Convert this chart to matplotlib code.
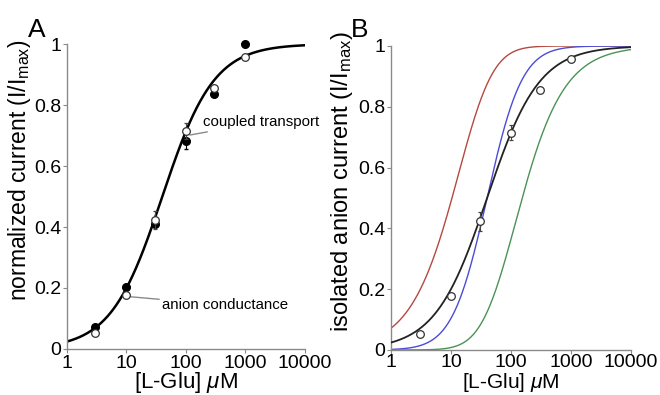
import numpy as np
import matplotlib
matplotlib.use("Agg")
import matplotlib.pyplot as plt

plt.rcParams['font.family'] = ['Liberation Sans', 'DejaVu Sans']
plt.rcParams['mathtext.fontset'] = 'custom'
plt.rcParams['mathtext.rm'] = 'Liberation Sans'
plt.rcParams['mathtext.it'] = 'Liberation Sans:italic'

# ---- data ----
glu = [3, 10, 30, 100, 300, 1000]                       # [L-Glu] uM
anion = [0.052, 0.177, 0.423, 0.715, 0.856, 0.957]      # open circles
anion_err = [0.0, 0.0, 0.03, 0.025, 0.0, 0.0]
coupled = [0.072, 0.203, 0.41, 0.682, 0.836, 1.0]       # filled circles
coupled_err = [0.0, 0.0, 0.0, 0.025, 0.0, 0.0]
K_half = 40.0        # fitted EC50 (uM) of single-site binding
n_sites = 3          # binding sites in the model of panel B
xticks = [1, 10, 100, 1000, 10000]
xticklabels = ['1', '10', '100', '1000', '10000']
yticks = [0, 0.2, 0.4, 0.6, 0.8, 1]
yticklabels = ['0', '0.2', '0.4', '0.6', '0.8', '1']

xs = np.logspace(0, 4, 500)
p = xs / (xs + K_half)
fit_black = p
fit_red = 1 - (1 - p) ** n_sites
fit_blue = 3 * p ** 2 - 2 * p ** 3
fit_green = p ** n_sites

fig = plt.figure(figsize=(6.6, 3.95), dpi=100)
axA = fig.add_axes([0.1015, 0.1165, 0.3606, 0.772])
axB = fig.add_axes([0.5924, 0.1140, 0.3636, 0.7696])

gray = '#8a8a8a'
for ax in (axA, axB):
    ax.set_xscale('log')
    ax.set_xlim(1, 10000)
    ax.set_ylim(0, 1)
    for s in ('top', 'right'):
        ax.spines[s].set_visible(False)
    for s in ('left', 'bottom'):
        ax.spines[s].set_color(gray)
        ax.spines[s].set_linewidth(1.0)
    ax.set_xticks(xticks)
    ax.set_xticklabels(xticklabels)
    ax.xaxis.set_minor_locator(matplotlib.ticker.NullLocator())
    ax.set_yticks(yticks)
    ax.set_yticklabels(yticklabels)
    ax.tick_params(axis='both', direction='out', length=3, width=0.8, color=gray,
                   labelsize=14, pad=1)

axB.tick_params(axis='x', pad=0)
axA.set_xlabel('[L-Glu] $\\mu$M', fontsize=16, labelpad=-1)
axB.set_xlabel('[L-Glu] $\\mu$M', fontsize=15, labelpad=0)

# Panel A
axA.plot(xs, fit_black, color='black', lw=1.8, zorder=2)
axA.errorbar(glu, coupled, yerr=coupled_err, fmt='o', color='black', ms=5.5,
             mfc='black', mec='black', elinewidth=0.8, capsize=1.5, zorder=3, clip_on=False)
axA.errorbar(glu, anion, yerr=anion_err, fmt='o', color='#444444', ms=5.5,
             mfc='white', mec='#333333', mew=0.9, elinewidth=0.8, capsize=1.5, zorder=4, clip_on=False)
axA.annotate('coupled transport', xy=(105, 0.70), xytext=(193, 0.744),
             fontsize=10.8, va='center', ha='left',
             arrowprops=dict(arrowstyle='-', color=gray, lw=1.0, shrinkA=0, shrinkB=2))
axA.annotate('anion conductance', xy=(10.5, 0.172), xytext=(39.5, 0.144),
             fontsize=10.8, va='center', ha='left',
             arrowprops=dict(arrowstyle='-', color=gray, lw=1.0, shrinkA=0, shrinkB=2))
axA.set_ylabel('normalized current (I/I$_{\\mathrm{max}}$)', fontsize=16.5)
axA.yaxis.set_label_coords(-0.143, 0.585)
fig.text(0.042, 0.925, 'A', fontsize=19, ha='left', va='center')

# Panel B
axB.plot(xs, fit_red, color='#b5493f', lw=1.0, zorder=2)
axB.plot(xs, fit_blue, color='#4b4bd6', lw=1.0, zorder=2)
axB.plot(xs, fit_green, color='#4a9256', lw=1.0, zorder=2)
axB.plot(xs, fit_black, color='#222222', lw=1.3, zorder=3)
axB.errorbar(glu, anion, yerr=anion_err, fmt='o', color='#444444', ms=5.5,
             mfc='white', mec='#333333', mew=0.9, elinewidth=0.8, capsize=1.5, zorder=4, clip_on=False)
axB.set_ylabel('isolated anion current (I/I$_{\\mathrm{max}}$)', fontsize=17)
axB.yaxis.set_label_coords(-0.15, 0.555)
fig.text(0.532, 0.925, 'B', fontsize=19, ha='left', va='center')

fig.savefig('out.png', dpi=100, facecolor='white')
